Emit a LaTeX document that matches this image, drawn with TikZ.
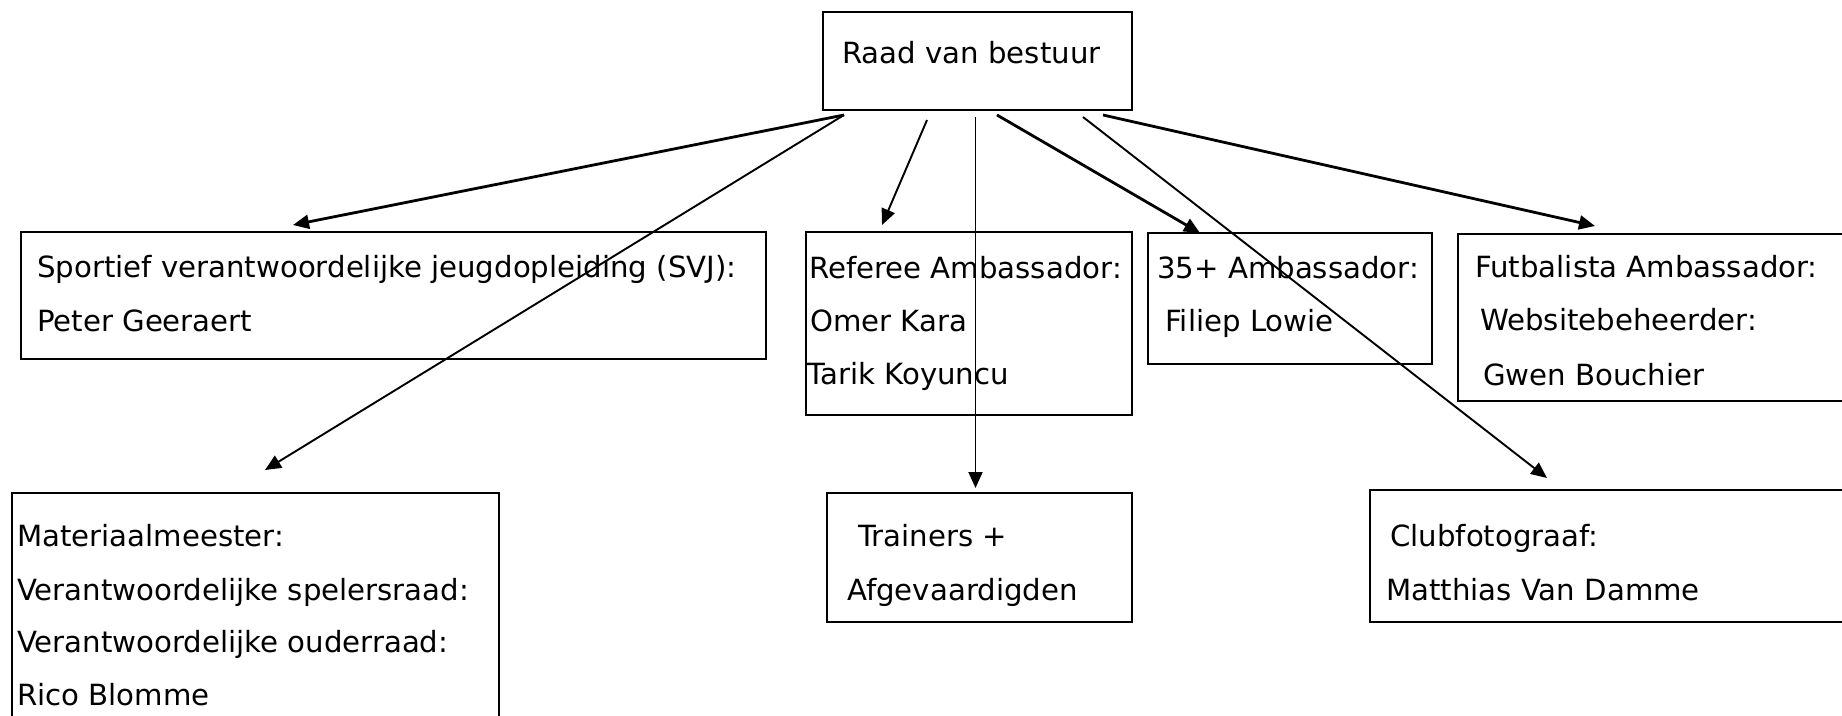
\documentclass[tikz,border=0pt]{standalone}
\usepackage{fontspec}
\setmainfont{DejaVu Sans}
\usetikzlibrary{arrows.meta}
\begin{document}
\begin{tikzpicture}[x=1pt,y=-1pt,
  box/.style={draw, line width=2.4pt, rectangle, inner sep=0pt, anchor=north west},
  txt/.style={anchor=base west, inner sep=0pt, font=\fontsize{29.2}{35}\selectfont},
  arrthick/.style={line width=2.8pt, -{Triangle[length=16pt,width=14pt]}},
  arrthin/.style={line width=1.9pt, -{Triangle[length=16pt,width=14pt]}}]
\useasboundingbox (0,0) rectangle (1842,715);
\fill[white] (0,0) rectangle (1842,715);
% boxes
\node[box, minimum width=309pt, minimum height=98pt]  (raad) at (822,11) {};
\node[box, minimum width=745pt, minimum height=127pt] (svj)  at (20,231) {};
\node[box, minimum width=326pt, minimum height=183pt] (ref)  at (805,231) {};
\node[box, minimum width=284pt, minimum height=131pt] (p35)  at (1147,232) {};
\node[box, minimum width=400pt, minimum height=167pt] (fut)  at (1457,233) {};
\node[box, minimum width=487pt, minimum height=240pt] (mat)  at (11,492) {};
\node[box, minimum width=305pt, minimum height=129pt] (tra)  at (826,492) {};
\node[box, minimum width=483pt, minimum height=132pt] (club) at (1369,489) {};
% texts
\node[txt] (t-raad) at (842,63) {Raad van bestuur};
\node[txt] (t-svj1) at (37,277) {Sportief verantwoordelijke jeugdopleiding (SVJ):};
\node[txt] (t-svj2) at (37,331) {Peter Geeraert};
\node[txt] (t-ref1) at (809,278) {Referee Ambassador:};
\node[txt] (t-ref2) at (810,331) {Omer Kara};
\node[txt] (t-ref3) at (807,384) {Tarik Koyuncu};
\node[txt] (t-p351) at (1157,278) {35+ Ambassador:};
\node[txt] (t-p352) at (1165,331) {Filiep Lowie};
\node[txt] (t-fut1) at (1475,277) {Futbalista Ambassador:};
\node[txt] (t-fut2) at (1480,330) {Websitebeheerder:};
\node[txt] (t-fut3) at (1483,385) {Gwen Bouchier};
\node[txt] (t-mat1) at (17,546) {Materiaalmeester:};
\node[txt] (t-mat2) at (17,600) {Verantwoordelijke spelersraad:};
\node[txt] (t-mat3) at (17,652) {Verantwoordelijke ouderraad:};
\node[txt] (t-mat4) at (17,705) {Rico Blomme};
\node[txt] (t-tra1) at (858,546) {Trainers +};
\node[txt] (t-tra2) at (847,600) {Afgevaardigden};
\node[txt] (t-club1) at (1390,546) {Clubfotograaf:};
\node[txt] (t-club2) at (1386,600) {Matthias Van Damme};
% connector ends
\coordinate (s-left) at (844,115);
\coordinate (s-ref)  at (927,120);
\coordinate (s-tra)  at (975.5,117);
\coordinate (s-p35)  at (997,115);
\coordinate (s-club) at (1083,117);
\coordinate (s-fut)  at (1103,115);
\coordinate (e-svj)  at (293,225);
\coordinate (e-mat)  at (265,470);
\coordinate (e-ref)  at (882,225);
\coordinate (e-tra)  at (975.5,488);
\coordinate (e-p35)  at (1200,233);
\coordinate (e-club) at (1547,478);
\coordinate (e-fut)  at (1595,226);
% connectors
\draw[arrthick] (s-left) -- (e-svj);
\draw[arrthin]  (s-left) -- (e-mat);
\draw[arrthin]  (s-ref)  -- (e-ref);
\draw[arrthin]  (s-tra)  -- (e-tra);
\draw[arrthick] (s-p35)  -- (e-p35);
\draw[arrthin]  (s-club) -- (e-club);
\draw[arrthick] (s-fut)  -- (e-fut);
\end{tikzpicture}
\end{document}
